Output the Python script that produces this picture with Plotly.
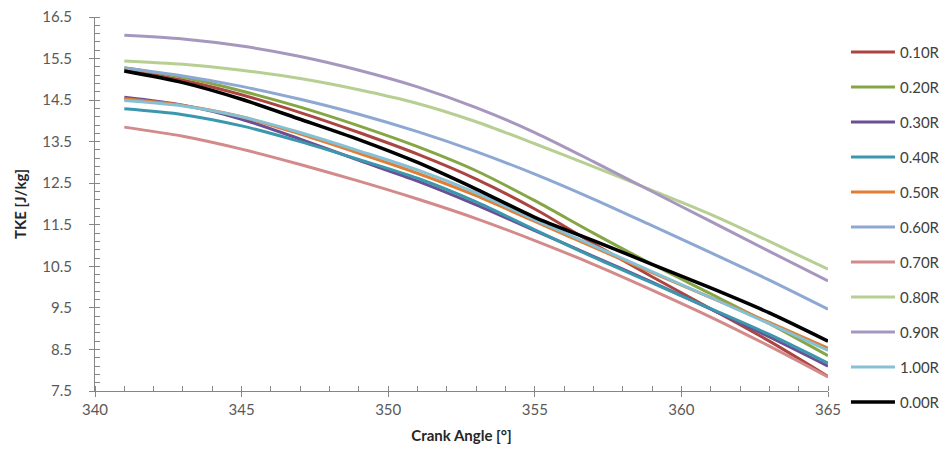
import plotly.graph_objects as go

# Crank angle samples [deg]
crank_angle = [341, 343, 345, 347, 349, 351, 353, 355, 357, 359, 361, 363, 365]

# Turbulent kinetic energy [J/kg] at each radial position
tke_010R = [15.22, 14.98, 14.63, 14.20, 13.72, 13.20, 12.60, 11.88, 11.05, 10.25, 9.48, 8.70, 7.85]
tke_020R = [15.28, 15.05, 14.72, 14.33, 13.88, 13.38, 12.80, 12.08, 11.30, 10.55, 9.84, 9.12, 8.35]
tke_030R = [14.57, 14.38, 14.04, 13.56, 13.05, 12.55, 11.98, 11.36, 10.74, 10.12, 9.47, 8.80, 8.10]
tke_040R = [14.29, 14.15, 13.88, 13.50, 13.07, 12.62, 12.05, 11.38, 10.72, 10.10, 9.48, 8.86, 8.17]
tke_050R = [14.53, 14.37, 14.10, 13.68, 13.22, 12.74, 12.20, 11.58, 10.96, 10.35, 9.75, 9.15, 8.53]
tke_060R = [15.27, 15.08, 14.83, 14.52, 14.16, 13.74, 13.26, 12.72, 12.12, 11.48, 10.83, 10.17, 9.47]
tke_070R = [13.85, 13.63, 13.32, 12.95, 12.55, 12.12, 11.65, 11.12, 10.55, 9.93, 9.28, 8.58, 7.84]
tke_080R = [15.44, 15.36, 15.22, 15.02, 14.75, 14.42, 13.98, 13.45, 12.90, 12.33, 11.75, 11.10, 10.43]
tke_090R = [16.06, 15.97, 15.80, 15.55, 15.22, 14.82, 14.32, 13.72, 13.02, 12.30, 11.58, 10.86, 10.15]
tke_100R = [14.49, 14.36, 14.10, 13.72, 13.28, 12.82, 12.27, 11.62, 11.00, 10.37, 9.75, 9.12, 8.48]
tke_000R = [15.20, 14.92, 14.52, 14.04, 13.55, 13.00, 12.36, 11.68, 11.12, 10.55, 9.98, 9.38, 8.70]

series = [
    ("0.10R", tke_010R, "#AA4541", 3),
    ("0.20R", tke_020R, "#86A544", 3),
    ("0.30R", tke_030R, "#6B4F93", 3),
    ("0.40R", tke_040R, "#3A97AE", 3),
    ("0.50R", tke_050R, "#E07E35", 3),
    ("0.60R", tke_060R, "#8DA8D3", 3),
    ("0.70R", tke_070R, "#D28B8A", 3),
    ("0.80R", tke_080R, "#B7CF92", 3),
    ("0.90R", tke_090R, "#A797BF", 3),
    ("1.00R", tke_100R, "#86C0D4", 3),
    ("0.00R", tke_000R, "#000000", 3.5),
]

x_ticks = [340, 345, 350, 355, 360, 365]
y_ticks = [7.5, 8.5, 9.5, 10.5, 11.5, 12.5, 13.5, 14.5, 15.5, 16.5]

FONT = "Lato, 'Open Sans', sans-serif"
AXIS_GREY = "#868686"
LABEL_GREY = "#595959"

fig = go.Figure()
for name, values, color, width in series:
    fig.add_trace(go.Scatter(
        x=crank_angle, y=values, name=name, mode="lines",
        line=dict(color=color, width=width, shape="spline", smoothing=0.8),
        legendgroup=name,
    ))

# Invisible companion trace so the overlay axes (inner half of the major ticks) get drawn
fig.add_trace(go.Scatter(
    x=crank_angle, y=tke_000R, xaxis="x2", yaxis="y2", mode="lines",
    line=dict(width=0), opacity=0, showlegend=False, hoverinfo="skip",
))

fig.update_layout(
    width=941, height=450,
    margin=dict(l=95, r=113, t=17, b=59, autoexpand=False),
    paper_bgcolor="white", plot_bgcolor="white",
    font=dict(family=FONT, size=15, color=LABEL_GREY),
    showlegend=True,
    legend=dict(
        x=1.0245, xanchor="left", y=0.950, yanchor="top",
        font=dict(family=FONT, size=15, color="#404040"),
        itemwidth=44, tracegroupgap=12.5, bgcolor="rgba(0,0,0,0)",
        maxheight=440,
    ),
    xaxis=dict(
        range=[340, 365], tickvals=x_ticks, ticktext=[str(v) for v in x_ticks],
        showgrid=False, zeroline=False, showline=True, linecolor=AXIS_GREY, linewidth=1,
        ticks="outside", ticklen=5, tickcolor=AXIS_GREY,
        minor=dict(dtick=1, ticks="inside", ticklen=5, tickcolor=AXIS_GREY, showgrid=False),
        tickfont=dict(family=FONT, size=15, color=LABEL_GREY),
        title=dict(text="<b>Crank Angle [°]</b>", font=dict(family=FONT, size=15, color="#262626"), standoff=13),
    ),
    yaxis=dict(
        range=[7.5, 16.5], tickvals=y_ticks, ticktext=[f"{v:.1f}" for v in y_ticks],
        showgrid=False, zeroline=False, showline=True, linecolor=AXIS_GREY, linewidth=1,
        ticks="outside", ticklen=5, tickcolor=AXIS_GREY,
        minor=dict(dtick=0.2, tick0=7.5, ticks="inside", ticklen=5, tickcolor=AXIS_GREY, showgrid=False),
        tickfont=dict(family=FONT, size=15, color=LABEL_GREY),
        ticklabelstandoff=14,
        title=dict(text="<b>TKE [J/kg]</b>", font=dict(family=FONT, size=15, color="#262626"), standoff=12),
    ),
    xaxis2=dict(
        overlaying="x", matches="x", range=[340, 365], tickvals=x_ticks,
        showticklabels=False, showgrid=False, zeroline=False, showline=False,
        ticks="inside", ticklen=5, tickcolor=AXIS_GREY, anchor="y2",
    ),
    yaxis2=dict(
        overlaying="y", matches="y", range=[7.5, 16.5], tickvals=y_ticks,
        showticklabels=False, showgrid=False, zeroline=False, showline=False,
        ticks="inside", ticklen=5, tickcolor=AXIS_GREY, anchor="x2",
    ),
)

fig.write_html("out.html")
